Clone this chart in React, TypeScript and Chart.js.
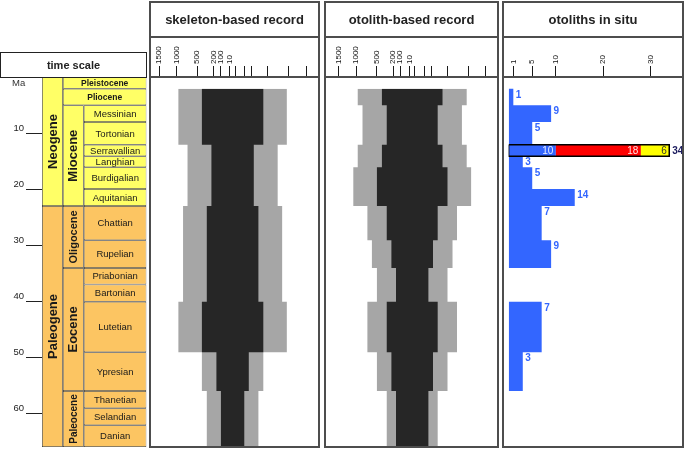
import React, { useEffect, useRef } from 'react';
import { Chart, LinearScale, registerables } from 'chart.js';

// ---------------- data ----------------
const intervalNames = ['Pleistocene', 'Pliocene', 'Messinian', 'Tortonian', 'Serravallian', 'Langhian', 'Burdigalian', 'Aquitanian', 'Chattian', 'Rupelian', 'Priabonian', 'Bartonian', 'Lutetian', 'Ypresian', 'Thanetian', 'Selandian', 'Danian'];
// base of each interval in Ma (as drawn)
const intervalBase = [2.1, 5.06, 8.04, 12.1, 14.15, 16.1, 20.0, 23.0, 29.1, 34.05, 37.0, 40.1, 49.1, 56.0, 59.1, 62.1, 66.0];
// epochs that span the epoch + age columns
const spanningEpochs = ['Pleistocene', 'Pliocene'];

const epochNames = ['Miocene', 'Oligocene', 'Eocene', 'Paleocene'];
const epochTop = [5.06, 23.0, 34.05, 56.0];
const epochBase = [23.0, 34.05, 56.0, 66.0];

const periodNames = ['Neogene', 'Paleogene'];
const periodTop = [0, 23.0];
const periodBase = [23.0, 66.0];

const maTicks = [10, 20, 30, 40, 50, 60];

// spindle widths (number of taxa) per interval
const skeletonTotal = [null, 950, 950, 950, 720, 720, 720, 720, 830, 830, 830, 830, 950, 405, 312, 312, 312];
const skeletonCore = [null, 405, 405, 405, 232, 232, 232, 232, 312, 312, 312, 312, 405, 155, 95, 95, 95];
const otolithTotal = [null, 957, 834, 834, 957, 957, 1076, 1076, 714, 609, 499, 499, 714, 499, 306, 306, 306];
const otolithCore = [null, 397, 306, 306, 397, 397, 499, 499, 306, 226, 155, 155, 306, 226, 155, 155, 155];
const recordTicks = [1500, 1000, 500, 200, 100, 10];

// otoliths in situ
const inSituCounts = [0, 1, 9, 5, 10, 3, 5, 14, 7, 9, 0, 0, 7, 3, 0, 0, 0];
const serravallianSplit = [10, 18, 6];
const inSituTicks = [1, 5, 10, 20, 30];

// ---------------- setup ----------------
const FONT = '"Liberation Sans", Arial, Helvetica, sans-serif';
const EXP = 2 / 3;
const sp = (v: number) => Math.sign(v) * Math.pow(Math.abs(v), EXP);

class PowerScale extends (LinearScale as any) {
  static id = 'power';
  getPixelForValue(value: number) {
    if (value === null || value === undefined || Number.isNaN(value)) return NaN;
    const a = sp(this.min), b = sp(this.max);
    return this.getPixelForDecimal((sp(value) - a) / (b - a));
  }
  getValueForPixel(pixel: number) {
    const a = sp(this.min), b = sp(this.max);
    const f = a + this.getDecimalForPixel(pixel) * (b - a);
    return Math.sign(f) * Math.pow(Math.abs(f), 1 / EXP);
  }
}
Chart.register(...registerables, PowerScale as any);
Chart.defaults.font.family = FONT;

const intervalTop = intervalBase.map((_, i) => (i === 0 ? 0 : intervalBase[i - 1]));
const SERRA = intervalNames.indexOf('Serravallian');
const BLUE = '#3366FF';

function edgePoints(values: (number | null)[], sign: number) {
  const pts: { x: number; y: number }[] = [];
  values.forEach((v, i) => {
    if (v !== null) pts.push({ x: sign * v, y: intervalTop[i] });
  });
  const last = values.length - 1;
  pts.push({ x: sign * (values[last] as number), y: intervalBase[last] });
  return pts;
}

const cellLabelPlugin = {
  id: 'cellLabels',
  afterDatasetsDraw(chart: any) {
    const ctx = chart.ctx;
    chart.data.datasets.forEach((ds: any, di: number) => {
      const meta = chart.getDatasetMeta(di);
      meta.data.forEach((el: any, i: number) => {
        const { x, y, base } = el.getProps(['x', 'y', 'base'], true);
        const cy = (y + base) / 2;
        ctx.save();
        ctx.font = ds.cellFonts[i];
        ctx.fillStyle = '#1a1a1a';
        ctx.textAlign = 'center';
        ctx.textBaseline = 'middle';
        ctx.translate(x, cy);
        if (ds.rotateText) ctx.rotate(-Math.PI / 2);
        ctx.fillText(ds.cellLabels[i], 0, 0.5);
        ctx.restore();
      });
    });
  },
};

function timeScaleConfig(): any {
  const YELLOW = '#FFFF66';
  const ORANGE = '#FCC562';
  const col = (top: number) => (top < periodBase[0] ? YELLOW : ORANGE);
  const common = { type: 'bar', grouped: false, categoryPercentage: 1, borderColor: '#333', borderWidth: 0.75, borderSkipped: false };
  const spanIdx = intervalNames.map((_, i) => i).filter((i) => spanningEpochs.includes(intervalNames[i]));
  const ageIdx = intervalNames.map((_, i) => i).filter((i) => !spanningEpochs.includes(intervalNames[i]));
  const epochFonts = [13, 11, 13, 10];
  return {
    type: 'bar',
    data: {
      datasets: [
        {
          ...common, label: 'period', barPercentage: 2,
          data: periodNames.map((_, i) => ({ x: 0.5, y: [periodTop[i], periodBase[i]] })),
          backgroundColor: periodNames.map((_, i) => col(periodTop[i])),
          cellLabels: periodNames, cellFonts: periodNames.map(() => `bold 13px ${FONT}`), rotateText: true,
        },
        {
          ...common, label: 'epoch', barPercentage: 2,
          data: epochNames.map((_, i) => ({ x: 1.5, y: [epochTop[i], epochBase[i]] })),
          backgroundColor: epochNames.map((_, i) => col(epochTop[i])),
          cellLabels: epochNames, cellFonts: epochFonts.map((s) => `bold ${s}px ${FONT}`), rotateText: true,
        },
        {
          ...common, label: 'spanning', barPercentage: 8,
          data: spanIdx.map((i) => ({ x: 3, y: [intervalTop[i], intervalBase[i]] })),
          backgroundColor: spanIdx.map((i) => col(intervalTop[i])),
          cellLabels: spanIdx.map((i) => intervalNames[i]), cellFonts: spanIdx.map(() => `bold 8.5px ${FONT}`), rotateText: false,
        },
        {
          ...common, label: 'stage', barPercentage: 6,
          data: ageIdx.map((i) => ({ x: 3.5, y: [intervalTop[i], intervalBase[i]] })),
          backgroundColor: ageIdx.map((i) => col(intervalTop[i])),
          cellLabels: ageIdx.map((i) => intervalNames[i]), cellFonts: ageIdx.map(() => `9.5px ${FONT}`), rotateText: false,
        },
      ],
    },
    options: {
      responsive: false, animation: false, events: [],
      layout: { padding: { top: 1, bottom: 1, left: 0, right: 0.5 } },
      plugins: { legend: { display: false }, tooltip: { enabled: false } },
      scales: {
        x: { type: 'linear', min: 0, max: 5, offset: false, display: false, ticks: { stepSize: 1 }, grid: { offset: false } },
        y: {
          type: 'linear', reverse: true, min: 0, max: 66, position: 'left',
          afterBuildTicks: (s: any) => { s.ticks = maTicks.map((v) => ({ value: v })); },
          afterFit: (s: any) => { s.width = 42; s.paddingTop = 0; s.paddingBottom = 0; },
          ticks: { font: { size: 9.5 }, color: '#222', padding: 2, labelOffset: -5, callback: (v: any) => String(v) },
          grid: { drawOnChartArea: false, drawTicks: true, tickLength: 16, color: '#222', lineWidth: 1 },
          border: { display: false },
        },
      },
    },
    plugins: [cellLabelPlugin],
  };
}

function topAxis(extra: any) {
  return {
    position: 'top',
    afterFit: (s: any) => { s.height = 39; s.paddingLeft = 0; s.paddingRight = 0; },
    grid: { drawOnChartArea: false, drawTicks: true, tickLength: 11, color: '#1a1a1a', lineWidth: 1 },
    border: { display: false },
    ...extra,
  };
}

const axisTicks = { autoSkip: false, minRotation: 90, maxRotation: 90, padding: 2, labelOffset: 9.6, font: { size: 8, lineHeight: 1.2 }, color: '#111' };

function recordConfig(total: (number | null)[], core: (number | null)[], min: number, max: number): any {
  const edge = (extra: any) => ({ pointRadius: 0, borderWidth: 0, borderColor: 'transparent', stepped: 'after', ...extra });
  const tickVals = [...recordTicks.map((v) => -v), ...recordTicks.slice().reverse()];
  return {
    type: 'line',
    data: {
      datasets: [
        edge({ label: 'core-left', data: edgePoints(core, -1), fill: false }),
        edge({ label: 'core', data: edgePoints(core, 1), fill: '-1', backgroundColor: '#262626' }),
        edge({ label: 'total-left', data: edgePoints(total, -1), fill: false }),
        edge({ label: 'total', data: edgePoints(total, 1), fill: '-1', backgroundColor: '#A6A6A6' }),
      ],
    },
    options: {
      indexAxis: 'y', responsive: false, animation: false, events: [],
      layout: { padding: 0 },
      plugins: { legend: { display: false }, tooltip: { enabled: false } },
      scales: {
        x: topAxis({
          type: 'power', min, max,
          afterBuildTicks: (s: any) => { s.ticks = tickVals.map((v) => ({ value: v })); },
          ticks: { ...axisTicks, callback: (v: any) => (v < 0 ? String(-v) : '') },
        }),
        y: { type: 'linear', reverse: true, min: 0, max: 66, display: false },
      },
    },
  };
}

const inSituLabelPlugin = {
  id: 'inSituLabels',
  afterDatasetsDraw(chart: any) {
    const { ctx } = chart;
    const x = chart.scales.x, y = chart.scales.y;
    ctx.save();
    ctx.textBaseline = 'middle';
    const bold = `bold 10px ${FONT}`;
    inSituCounts.forEach((c, i) => {
      if (!c || i === SERRA) return;
      ctx.font = bold;
      ctx.fillStyle = BLUE;
      ctx.textAlign = 'left';
      ctx.fillText(String(c), x.getPixelForValue(c) + 2.5, y.getPixelForValue(intervalTop[i]) + 6);
    });
    const cy = (y.getPixelForValue(intervalTop[SERRA]) + y.getPixelForValue(intervalBase[SERRA])) / 2 + 0.5;
    const innerColors = ['#E8EEFF', '#FFE3E3', '#333333'];
    let cum = 0;
    serravallianSplit.forEach((v, k) => {
      cum += v;
      ctx.font = `10px ${FONT}`;
      ctx.fillStyle = innerColors[k];
      ctx.textAlign = 'right';
      ctx.fillText(String(v), x.getPixelForValue(cum) - 2.5, cy);
    });
    ctx.font = bold;
    ctx.fillStyle = '#1B1B5E';
    ctx.textAlign = 'left';
    ctx.fillText(String(cum), x.getPixelForValue(cum) + 3, cy);
    ctx.restore();
  },
};

function inSituConfig(): any {
  const top = intervalTop[SERRA], base = intervalBase[SERRA];
  const cum: number[] = [];
  serravallianSplit.reduce((a, v) => { cum.push(a + v); return a + v; }, 0);
  const total = cum[cum.length - 1];
  const seg = (x: number, from: number, color: string, label: string) => ({
    label, data: [{ x, y: top }, { x, y: base }], fill: { value: from }, backgroundColor: color,
    borderWidth: 0, borderColor: 'transparent', pointRadius: 0,
  });
  return {
    type: 'line',
    data: {
      datasets: [
        {
          label: 'outline',
          data: [{ x: 0, y: top }, { x: total, y: top }, { x: total, y: base }, { x: 0, y: base }, { x: 0, y: top }],
          borderColor: '#000', borderWidth: 1.5, fill: false, pointRadius: 0,
        },
        seg(cum[2], cum[1], '#FFFF00', 'yellow'),
        seg(cum[1], cum[0], '#FF0000', 'red'),
        {
          label: 'otoliths in situ', data: edgePoints(inSituCounts, 1), stepped: 'after', fill: 'origin',
          backgroundColor: BLUE, borderWidth: 0, borderColor: 'transparent', pointRadius: 0,
        },
      ],
    },
    options: {
      indexAxis: 'y', responsive: false, animation: false, events: [],
      layout: { padding: { left: 4.6, right: 0, top: 0, bottom: 0 } },
      plugins: { legend: { display: false }, tooltip: { enabled: false } },
      scales: {
        x: topAxis({
          type: 'linear', min: 0, max: 36.7,
          afterBuildTicks: (s: any) => { s.ticks = inSituTicks.map((v) => ({ value: v })); },
          ticks: { ...axisTicks, callback: (v: any) => String(v) },
        }),
        y: { type: 'linear', reverse: true, min: 0, max: 66, display: false },
      },
    },
    plugins: [inSituLabelPlugin],
  };
}

function ChartCanvas({ left, top, width, height, make }: any) {
  const ref = useRef<HTMLCanvasElement | null>(null);
  useEffect(() => {
    if (!ref.current) return;
    const chart = new Chart(ref.current, make());
    return () => chart.destroy();
  }, [make]);
  return (
    <canvas ref={ref} width={width} height={height}
      style={{ position: 'absolute', left, top, width, height, display: 'block' }} />
  );
}

const LINE = '#4D4D4D';
function Frame({ left, width, title }: any) {
  return (
    <>
      <div style={{ position: 'absolute', left, top: 1, width, height: 447, border: `2px solid ${LINE}`, boxSizing: 'border-box', pointerEvents: 'none' }} />
      <div style={{ position: 'absolute', left, top: 36, width, height: 2, background: LINE }} />
      <div style={{ position: 'absolute', left, top: 76, width, height: 2, background: LINE }} />
      <div style={{ position: 'absolute', left, top: 2, width, height: 34, display: 'flex', alignItems: 'center', justifyContent: 'center', fontWeight: 'bold', fontSize: 13, color: '#222' }}>{title}</div>
    </>
  );
}

const makeSkeleton = () => recordConfig(skeletonTotal, skeletonCore, -1754, 1878);
const makeOtolith = () => recordConfig(otolithTotal, otolithCore, -1905, 1858);

export default function App() {
  return (
    <div style={{ position: 'fixed', left: 0, top: 0, width: 685, height: 449, background: '#fff', overflow: 'hidden', fontFamily: FONT }}>
      <ChartCanvas left={0} top={76} width={147} height={372} make={timeScaleConfig} />
      <ChartCanvas left={151} top={38} width={167} height={409} make={makeSkeleton} />
      <ChartCanvas left={326} top={38} width={171} height={409} make={makeOtolith} />
      <ChartCanvas left={504} top={38} width={178} height={409} make={inSituConfig} />

      <div style={{ position: 'absolute', left: 0, top: 52, width: 147, height: 26, border: '1px solid #222', boxSizing: 'border-box', display: 'flex', alignItems: 'center', justifyContent: 'center', fontWeight: 'bold', fontSize: 11, color: '#222' }}>time scale</div>
      <div style={{ position: 'absolute', left: 12, top: 77, fontSize: 9.5, color: '#333', lineHeight: '12px' }}>Ma</div>

      <Frame left={149} width={171} title="skeleton-based record" />
      <Frame left={324} width={175} title="otolith-based record" />
      <Frame left={502} width={182} title="otoliths in situ" />
    </div>
  );
}
